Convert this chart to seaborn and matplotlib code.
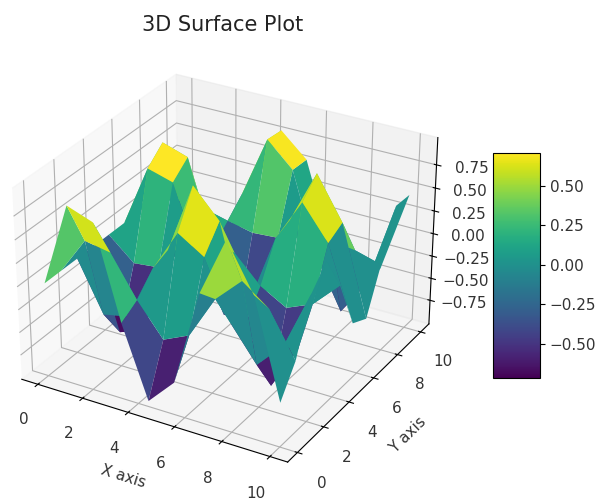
import numpy as np
import seaborn as sns
import matplotlib
matplotlib.use('Agg')
import matplotlib.pyplot as plt

x_vals = [0.0, 1.11, 2.22, 3.33, 4.44, 5.56, 6.67, 7.78, 8.89, 10.0]
y_vals = [0.0, 1.11, 2.22, 3.33, 4.44, 5.56, 6.67, 7.78, 8.89, 10.0]
# heights, one row per y value
z_rows = [
    [0, 0.90, 0.80, -0.19, -0.96, -0.67, 0.37, 1.00, 0.51, -0.54],
    [0, 0.40, 0.35, -0.08, -0.43, -0.30, 0.17, 0.44, 0.23, -0.24],
    [0, -0.54, -0.48, 0.12, 0.58, 0.40, -0.23, -0.60, -0.31, 0.33],
    [0, -0.88, -0.78, 0.19, 0.95, 0.65, -0.37, -0.98, -0.50, 0.53],
    [0, -0.24, -0.21, 0.05, 0.26, 0.18, -0.10, -0.26, -0.14, 0.14],
    [0, 0.67, 0.59, -0.14, -0.72, -0.50, 0.28, 0.74, 0.38, -0.41],
    [0, 0.83, 0.74, -0.18, -0.89, -0.62, 0.35, 0.92, 0.47, -0.50],
    [0, 0.07, 0.06, -0.01, -0.07, -0.05, 0.03, 0.08, 0.04, -0.04],
    [0, -0.77, -0.68, 0.16, 0.83, 0.57, -0.32, -0.86, -0.44, 0.47],
    [0, -0.75, -0.67, 0.16, 0.81, 0.56, -0.31, -0.84, -0.43, 0.46],
]
z_ticks = [-0.75, -0.50, -0.25, 0.0, 0.25, 0.50, 0.75]
cbar_ticks = [-0.50, -0.25, 0.0, 0.25, 0.50]

X, Y = np.meshgrid(x_vals, y_vals)
Z = np.array(z_rows)

fig = plt.figure(figsize=(6.06, 4.98), dpi=100)
ax = fig.add_axes([-0.023, 0.015, 0.781, 0.906], projection='3d')
# the reference is a bit wider than tall, so don't force a square panel
ax.apply_aspect = lambda position=None: None
surf = ax.plot_surface(X, Y, Z, cmap=sns.color_palette('viridis', as_cmap=True))
ax.set_title('3D Surface Plot', fontsize=15, color='#222222')
ax.set_xlabel('X axis', fontsize=11, labelpad=9, color='#333333')
ax.set_ylabel('Y axis', fontsize=11, labelpad=9, color='#333333')
ax.set_zticks(z_ticks)
ax.set_zticklabels(['%.2f' % t if t >= 0 else '\u2212%.2f' % -t for t in z_ticks])
ax.tick_params(labelsize=11, pad=7, labelcolor='#333333')

cax = fig.add_axes([0.813, 0.241, 0.078, 0.452])
cb = fig.colorbar(surf, cax=cax)
cb.set_ticks(cbar_ticks)
cb.ax.set_yticklabels(['%.2f' % t if t >= 0 else '\u2212%.2f' % -t for t in cbar_ticks])
cb.ax.tick_params(labelsize=11, labelcolor='#333333')

plt.savefig('out.png', dpi=100)
